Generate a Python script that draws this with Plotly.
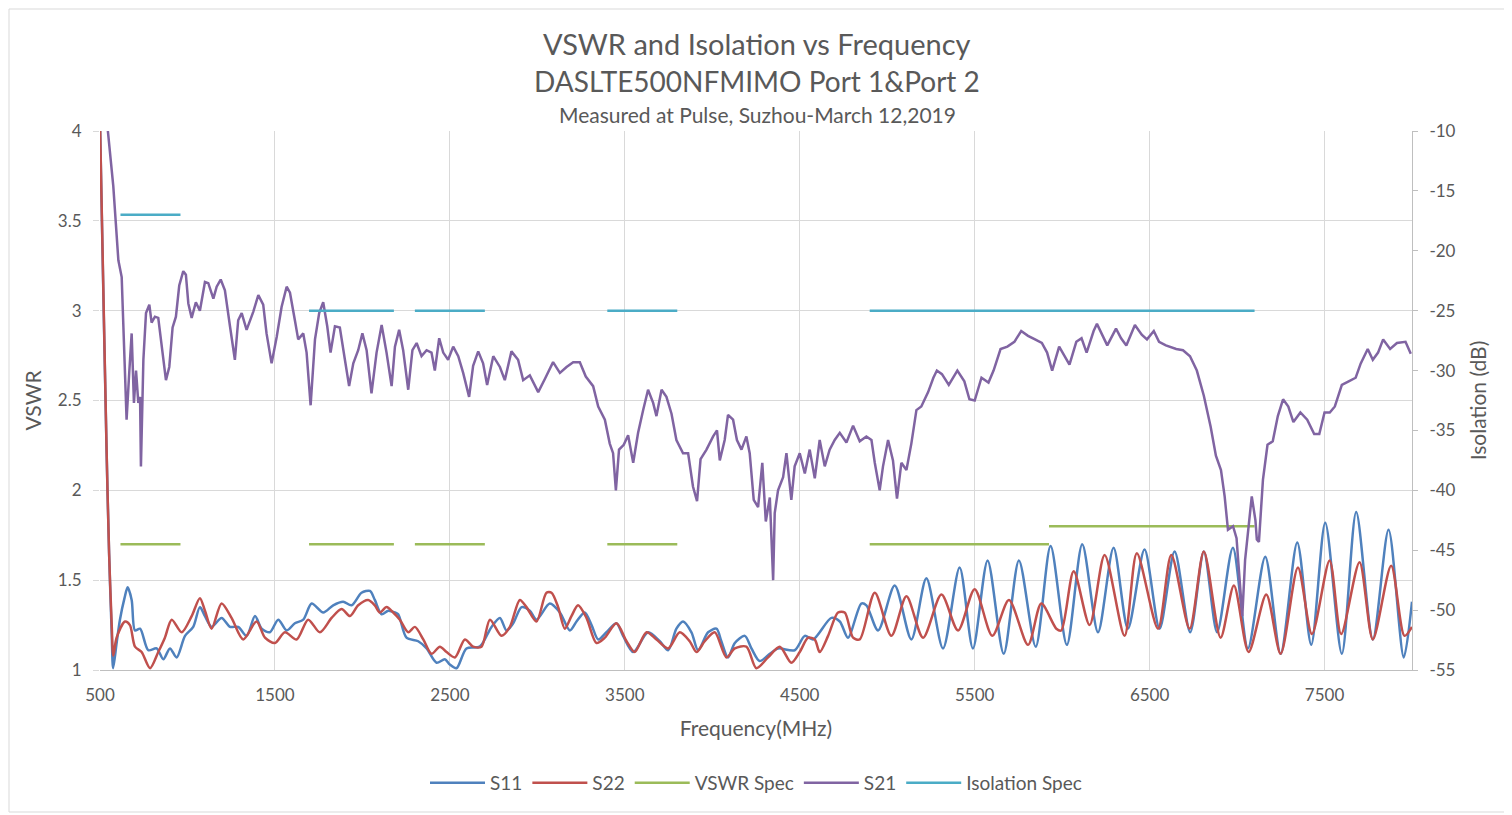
import plotly.graph_objects as go

# S11 / S22 (VSWR, left axis)
s11_freq = [500, 515, 538, 552, 567, 575, 595, 614, 640, 658, 681, 700, 729, 776, 824, 862, 900, 938, 986, 1033,
            1071, 1100, 1138, 1195, 1243, 1290, 1338, 1386, 1424, 1471, 1519, 1567, 1614, 1662, 1710, 1776, 1833,
            1890, 1938, 1995, 2043, 2071, 2110, 2148, 2186, 2205, 2252, 2319, 2367, 2424, 2471, 2500, 2538, 2595,
            2671, 2738, 2786, 2824, 2862, 2910, 2957, 2995, 3071, 3129, 3186, 3224, 3271, 3310, 3348, 3395, 3452,
            3490, 3548, 3633, 3700, 3748, 3795, 3833, 3881, 3919, 3976, 4024, 4052, 4090, 4129, 4186, 4224, 4271,
            4329, 4376, 4471, 4529, 4576, 4681, 4729, 4776, 4852, 4881, 4948, 5043, 5138, 5224, 5319, 5414, 5490,
            5574, 5666, 5753, 5849, 5934, 6027, 6115, 6205, 6294, 6376, 6471, 6557, 6643, 6732, 6810, 6886, 6976,
            7062, 7161, 7249, 7344, 7424, 7504, 7599, 7681, 7776, 7866, 7953, 8000]
s11_vswr = [4.05, 3.3, 2.2, 1.65, 1.2, 1.01, 1.15, 1.28, 1.40, 1.46, 1.39, 1.22, 1.23, 1.11, 1.12, 1.06, 1.12, 1.07,
            1.19, 1.24, 1.35, 1.30, 1.24, 1.29, 1.24, 1.24, 1.19, 1.30, 1.23, 1.21, 1.28, 1.22, 1.26, 1.28, 1.37,
            1.32, 1.36, 1.38, 1.36, 1.43, 1.44, 1.39, 1.31, 1.33, 1.32, 1.31, 1.18, 1.16, 1.12, 1.04, 1.06, 1.03,
            1.01, 1.12, 1.13, 1.24, 1.29, 1.22, 1.26, 1.35, 1.33, 1.28, 1.37, 1.32, 1.22, 1.27, 1.32, 1.25, 1.17,
            1.21, 1.26, 1.19, 1.10, 1.21, 1.16, 1.11, 1.23, 1.27, 1.21, 1.11, 1.21, 1.23, 1.16, 1.07, 1.15, 1.19,
            1.12, 1.05, 1.09, 1.12, 1.11, 1.19, 1.17, 1.29, 1.27, 1.18, 1.37, 1.36, 1.22, 1.47, 1.17, 1.51, 1.12,
            1.57, 1.12, 1.61, 1.09, 1.61, 1.13, 1.69, 1.14, 1.70, 1.21, 1.68, 1.23, 1.67, 1.23, 1.66, 1.21, 1.66,
            1.21, 1.68, 1.12, 1.63, 1.09, 1.71, 1.14, 1.82, 1.09, 1.88, 1.17, 1.78, 1.07, 1.38]

s22_freq = [500, 515, 538, 552, 567, 576, 595, 643, 671, 700, 738, 786, 833, 871, 910, 967, 1024, 1071, 1100, 1138,
            1195, 1252, 1319, 1395, 1443, 1500, 1557, 1624, 1690, 1757, 1824, 1881, 1929, 1976, 2033, 2071, 2100,
            2138, 2176, 2214, 2262, 2300, 2348, 2395, 2443, 2481, 2529, 2586, 2633, 2681, 2729, 2795, 2843, 2900,
            2938, 2995, 3052, 3081, 3119, 3157, 3195, 3233, 3281, 3338, 3386, 3452, 3510, 3557, 3624, 3681, 3748,
            3814, 3871, 3910, 3957, 4014, 4081, 4129, 4195, 4252, 4319, 4386, 4452, 4500, 4548, 4586, 4614, 4662,
            4719, 4757, 4805, 4843, 4929, 5024, 5110, 5205, 5310, 5405, 5500, 5601, 5696, 5805, 5881, 5967, 5995,
            6066, 6157, 6243, 6357, 6427, 6548, 6624, 6729, 6810, 6906, 6982, 7066, 7167, 7249, 7348, 7428, 7529,
            7595, 7700, 7776, 7881, 7957, 8000]
s22_vswr = [4.05, 3.32, 2.21, 1.65, 1.25, 1.08, 1.18, 1.27, 1.25, 1.13, 1.10, 1.01, 1.10, 1.18, 1.28, 1.21, 1.30,
            1.40, 1.33, 1.23, 1.37, 1.29, 1.17, 1.27, 1.18, 1.15, 1.21, 1.17, 1.28, 1.21, 1.29, 1.34, 1.30, 1.36,
            1.39, 1.36, 1.32, 1.35, 1.32, 1.28, 1.21, 1.24, 1.17, 1.09, 1.13, 1.10, 1.07, 1.17, 1.13, 1.13, 1.28,
            1.19, 1.24, 1.39, 1.35, 1.27, 1.43, 1.43, 1.35, 1.23, 1.30, 1.36, 1.29, 1.15, 1.18, 1.26, 1.16, 1.10,
            1.21, 1.17, 1.12, 1.21, 1.16, 1.10, 1.16, 1.21, 1.07, 1.12, 1.13, 1.01, 1.07, 1.13, 1.04, 1.10, 1.18,
            1.17, 1.10, 1.19, 1.32, 1.32, 1.18, 1.17, 1.43, 1.19, 1.41, 1.18, 1.42, 1.22, 1.45, 1.19, 1.39, 1.14,
            1.37, 1.23, 1.22, 1.55, 1.25, 1.64, 1.19, 1.65, 1.23, 1.64, 1.23, 1.66, 1.18, 1.47, 1.10, 1.42, 1.09,
            1.57, 1.20, 1.61, 1.20, 1.60, 1.17, 1.58, 1.19, 1.24]

# S21 isolation (dB, right axis)
s21_freq = [500, 545, 576, 605, 624, 633, 652, 667, 681, 694, 706, 719, 729, 734, 748, 763, 782, 795, 814, 833, 858,
            877, 896, 915, 934, 953, 976, 991, 1005, 1024, 1048, 1071, 1100, 1119, 1148, 1167, 1190, 1214, 1243,
            1271, 1290, 1310, 1338, 1376, 1405, 1433, 1452, 1481, 1510, 1538, 1567, 1586, 1614, 1633, 1662, 1681,
            1704, 1729, 1753, 1776, 1799, 1818, 1843, 1871, 1900, 1924, 1948, 1976, 2000, 2024, 2052, 2081, 2110,
            2138, 2167, 2186, 2210, 2233, 2262, 2286, 2310, 2338, 2367, 2395, 2414, 2439, 2462, 2490, 2519, 2548,
            2576, 2610, 2633, 2662, 2690, 2713, 2748, 2786, 2814, 2852, 2890, 2919, 2957, 3005, 3043, 3090, 3129,
            3167, 3205, 3243, 3277, 3319, 3348, 3386, 3414, 3433, 3449, 3467, 3494, 3519, 3548, 3576, 3605, 3633,
            3662, 3681, 3710, 3738, 3767, 3795, 3833, 3862, 3890, 3913, 3933, 3967, 4005, 4027, 4043, 4071, 4090,
            4119, 4141, 4167, 4195, 4214, 4237, 4262, 4286, 4306, 4329, 4348, 4357, 4376, 4405, 4424, 4452, 4471,
            4500, 4529, 4557, 4586, 4614, 4643, 4671, 4700, 4729, 4767, 4805, 4843, 4881, 4910, 4929, 4957, 4976,
            5005, 5033, 5056, 5081, 5110, 5138, 5167, 5195, 5234, 5264, 5284, 5313, 5352, 5401, 5441, 5470, 5500,
            5539, 5579, 5608, 5648, 5687, 5727, 5766, 5805, 5845, 5884, 5914, 5943, 5983, 6012, 6042, 6081, 6111,
            6140, 6180, 6199, 6229, 6258, 6308, 6337, 6367, 6416, 6455, 6485, 6524, 6554, 6593, 6652, 6691, 6731,
            6770, 6810, 6849, 6879, 6908, 6929, 6948, 6977, 6997, 7017, 7030, 7046, 7062, 7084, 7105, 7113, 7125,
            7148, 7174, 7204, 7233, 7263, 7293, 7322, 7362, 7401, 7441, 7470, 7500, 7530, 7559, 7599, 7638, 7678,
            7707, 7747, 7776, 7806, 7835, 7875, 7914, 7963, 7993]
s21_db = [-7, -10, -14.6, -20.8, -22.2, -26.3, -34.1, -30.2, -26.9, -32.7, -30.0, -32.7, -32.2, -38.0, -29.1, -25.2,
          -24.5, -26.0, -25.5, -25.6, -28.5, -30.8, -29.7, -26.4, -25.5, -22.9, -21.7, -22.0, -24.4, -25.6, -24.3,
          -25.0, -22.6, -22.7, -24.0, -23.0, -22.4, -23.3, -26.3, -29.1, -25.8, -25.2, -26.6, -25.1, -23.7, -24.5,
          -26.9, -29.4, -27.2, -24.7, -23.0, -23.5, -25.8, -27.4, -26.9, -28.5, -32.9, -27.4, -25.2, -24.3, -26.3,
          -28.5, -26.3, -26.4, -29.1, -31.3, -29.4, -28.3, -26.9, -28.3, -31.9, -28.5, -26.2, -28.5, -31.3, -28.0,
          -26.6, -28.3, -31.6, -28.3, -27.7, -28.8, -28.3, -28.5, -30.0, -27.3, -28.5, -29.1, -28.0, -28.8, -30.2,
          -32.2, -29.6, -28.4, -29.4, -31.2, -28.8, -29.7, -30.8, -28.4, -29.1, -30.8, -30.4, -31.8, -30.7, -29.3,
          -30.2, -29.7, -29.3, -29.3, -30.5, -31.3, -33.0, -34.1, -36.1, -36.9, -40.0, -36.6, -36.2, -35.4, -37.7,
          -35.2, -33.3, -31.6, -32.7, -33.8, -31.6, -32.2, -33.6, -35.8, -36.9, -36.9, -39.7, -40.9, -37.4, -36.6,
          -35.5, -35.0, -37.5, -35.8, -33.7, -34.1, -35.8, -36.6, -35.5, -36.9, -40.8, -41.4, -37.7, -42.6, -40.6,
          -47.5, -41.9, -40.0, -38.9, -36.9, -40.8, -38.0, -36.9, -38.6, -36.6, -39.0, -35.8, -38.0, -36.6, -35.8,
          -35.2, -36.0, -34.6, -35.9, -35.5, -35.8, -37.7, -40.0, -38.0, -35.8, -37.5, -40.7, -37.7, -38.3, -36.1,
          -33.3, -33.0, -31.8, -30.6, -30.0, -30.3, -31.2, -30.0, -30.9, -32.4, -32.5, -30.6, -31.0, -30.0, -28.2,
          -28.0, -27.6, -26.7, -27.1, -27.4, -27.7, -28.5, -30.0, -28.0, -28.8, -29.5, -27.6, -27.3, -28.5, -26.7,
          -26.1, -27.0, -27.9, -26.5, -27.3, -27.9, -26.2, -27.0, -27.4, -26.7, -27.6, -27.9, -28.2, -28.3, -28.8,
          -30.0, -32.1, -34.7, -37.1, -38.3, -40.5, -43.3, -43.0, -44.0, -47.9, -50.5, -45.8, -43.3, -40.5, -42.5,
          -44.1, -44.3, -39.1, -36.2, -35.9, -33.8, -32.4, -33.0, -34.3, -33.5, -34.1, -35.3, -35.3, -33.5, -33.5,
          -33.0, -31.2, -30.9, -30.6, -29.4, -28.2, -29.1, -28.5, -27.4, -28.2, -27.7, -27.6, -28.6]

# spec limits (None = gap between bands)
vswr_spec_freq = [617, 960, None, 1695, 2180, None, 2300, 2700, None, 3400, 3800, None, 4900, 5925, None, 5925, 7100]
vswr_spec = [1.7, 1.7, None, 1.7, 1.7, None, 1.7, 1.7, None, 1.7, 1.7, None, 1.7, 1.7, None, 1.8, 1.8]
iso_spec_freq = [617, 960, None, 1695, 2180, None, 2300, 2700, None, 3400, 3800, None, 4900, 7100]
iso_spec = [-17, -17, None, -25, -25, None, -25, -25, None, -25, -25, None, -25, -25]

# axis ticks
freq_ticks = [500, 1500, 2500, 3500, 4500, 5500, 6500, 7500]
iso_ticks = [-10, -15, -20, -25, -30, -35, -40, -45, -50, -55]
iso_tick_text = ["-10", "-15", "-20", "-25", "-30", "-35", "-40", "-45", "-50", "-55"]

FONT = "Lato"
GREY = "#595959"

# page body has an 8px margin, so the figure is a bit smaller and shifted
W, H = 1504, 807
ML, MR, MT, MB = 92, 100, 123, 145
PW, PH = W - ML - MR, H - MT - MB


def py(y):
    # page pixel row -> paper y
    return (670 - y) / PH


def px(x):
    return (x - 100) / PW


fig = go.Figure()
fig.add_trace(go.Scatter(x=s11_freq, y=s11_vswr, name="S11", mode="lines",
                         line=dict(color="#4F81BD", width=2.5, shape="spline", smoothing=0.8)))
fig.add_trace(go.Scatter(x=s22_freq, y=s22_vswr, name="S22", mode="lines",
                         line=dict(color="#C0504D", width=2.5, shape="spline", smoothing=0.8)))
fig.add_trace(go.Scatter(x=vswr_spec_freq, y=vswr_spec, name="VSWR Spec", mode="lines",
                         line=dict(color="#9BBB59", width=2.5)))
fig.add_trace(go.Scatter(x=s21_freq, y=s21_db, name="S21", mode="lines", yaxis="y2",
                         line=dict(color="#8064A2", width=2.5)))
fig.add_trace(go.Scatter(x=iso_spec_freq, y=iso_spec, name="Isolation Spec", mode="lines", yaxis="y2",
                         line=dict(color="#4BACC6", width=2.5)))

fig.update_layout(
    width=W, height=H, autosize=False,
    margin=dict(l=ML, r=MR, t=MT, b=MB),
    plot_bgcolor="white", paper_bgcolor="white",
    font=dict(family=FONT, color=GREY, size=17),
    showlegend=True,
    legend=dict(orientation="h", x=0.5, xanchor="center", y=py(783), yanchor="middle",
                font=dict(size=19, color=GREY), itemwidth=55, traceorder="normal"),
    xaxis=dict(range=[500, 8000], tickvals=freq_ticks,
               showgrid=True, gridcolor="#d9d9d9", gridwidth=1, zeroline=False,
               showline=True, linecolor="#bfbfbf", linewidth=1,
               ticks="outside", ticklen=10, tickcolor="rgba(0,0,0,0)",
               title=dict(text="Frequency(MHz)", font=dict(size=21, color=GREY), standoff=16),
               tickfont=dict(size=17, color=GREY)),
    yaxis=dict(range=[1, 4], dtick=0.5, showgrid=True, gridcolor="#d9d9d9", zeroline=False,
               ticks="outside", ticklen=6, tickcolor="#d9d9d9", ticklabelstandoff=8,
               title=dict(text="VSWR", font=dict(size=21, color=GREY), standoff=10),
               tickfont=dict(size=17, color=GREY)),
    yaxis2=dict(range=[-55, -10], tickvals=iso_ticks, ticktext=iso_tick_text, overlaying="y", side="right",
                showgrid=False, zeroline=False, ticklabelstandoff=8,
                showline=True, linecolor="#bfbfbf", ticks="outside", ticklen=5, tickcolor="#bfbfbf",
                title=dict(text="Isolation (dB)", font=dict(size=21, color=GREY), standoff=16),
                tickfont=dict(size=17, color=GREY)),
    annotations=[
        dict(text="VSWR and Isolation vs Frequency", xref="paper", yref="paper", x=px(757), y=py(43),
             showarrow=False, font=dict(size=29, color=GREY), xanchor="center", yanchor="middle"),
        dict(text="DASLTE500NFMIMO Port 1&Port 2", xref="paper", yref="paper", x=px(757), y=py(81),
             showarrow=False, font=dict(size=28, color=GREY), xanchor="center", yanchor="middle"),
        dict(text="Measured at Pulse, Suzhou-March 12,2019", xref="paper", yref="paper", x=px(757),
             y=py(115), showarrow=False, font=dict(size=21, color=GREY),
             xanchor="center", yanchor="middle"),
    ],
    shapes=[dict(type="rect", xref="paper", yref="paper", x0=px(9), x1=px(1507),
                 y0=py(812), y1=py(9), line=dict(color="#d9d9d9", width=1),
                 layer="below")],
)

fig.write_html("out.html")
